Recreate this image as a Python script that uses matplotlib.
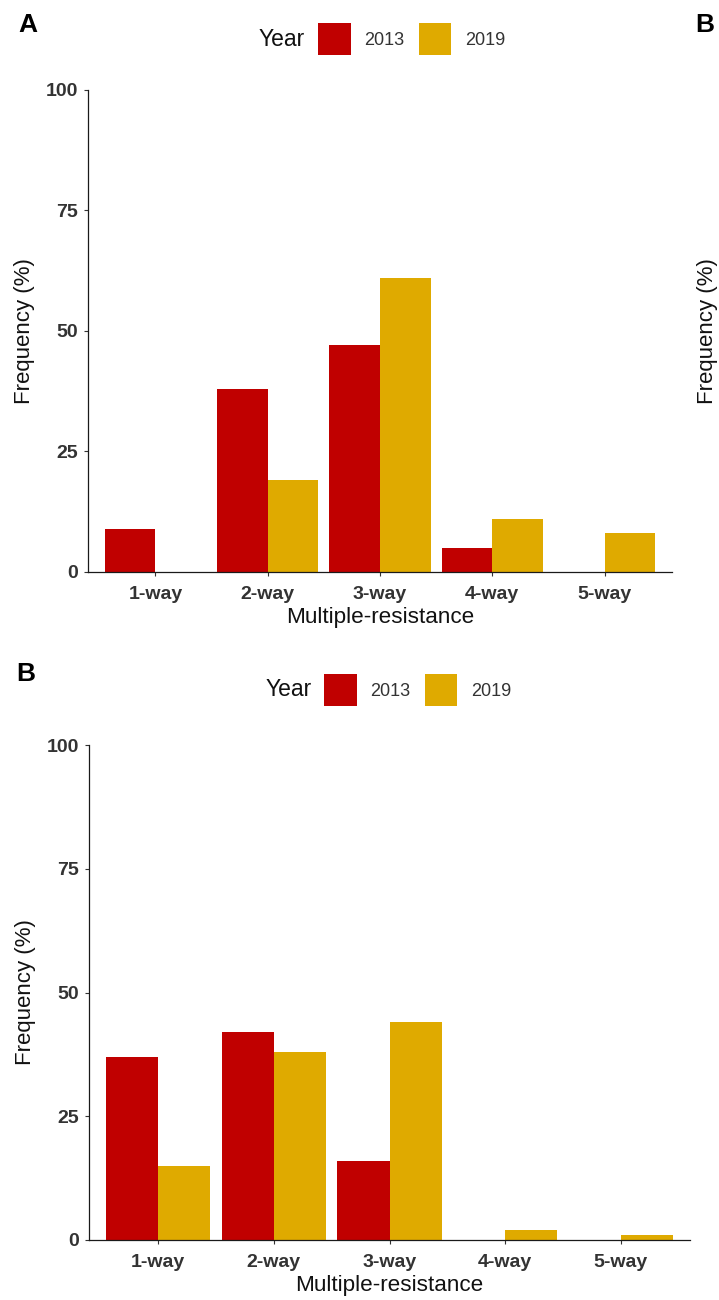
import matplotlib.pyplot as plt
import numpy as np

plt.rcParams['font.family'] = ['Liberation Sans', 'DejaVu Sans']

categorias = ['1-way', '2-way', '3-way', '4-way', '5-way']
anos = ['2013', '2019']
cores = ['#C00000', '#DFAA00']

# painel A
a_2013 = [9, 38, 47, 5, 0]
a_2019 = [0, 19, 61, 11, 8]
# painel B
b_2013 = [37, 42, 16, 0, 0]
b_2019 = [15, 38, 44, 2, 1]

yticks = [0, 25, 50, 75, 100]

fig = plt.figure(figsize=(7.19, 13), dpi=100)
W, H = 719.0, 1300.0


def painel(rect, v1, v2):
    ax = fig.add_axes(rect)
    x = np.arange(1, len(categorias) + 1)
    ax.bar(x - 0.225, v1, width=0.45, color=cores[0], label=anos[0], linewidth=0)
    ax.bar(x + 0.225, v2, width=0.45, color=cores[1], label=anos[1], linewidth=0)
    ax.set_xlim(0.4, 5.6)
    ax.set_ylim(0, 100)
    ax.set_xticks(x)
    ax.set_xticklabels(categorias)
    ax.set_yticks(yticks)
    ax.set_yticklabels([str(t) for t in yticks])
    for s in ['top', 'right']:
        ax.spines[s].set_visible(False)
    for s in ['left', 'bottom']:
        ax.spines[s].set_linewidth(0.9)
        ax.spines[s].set_color('#1a1a1a')
    ax.tick_params(axis='both', length=3, width=0.8, color='#333333',
                   labelcolor='#333333', labelsize=14)
    ax.tick_params(axis='x', pad=7)
    ax.tick_params(axis='y', pad=4)
    for lb in ax.get_xticklabels() + ax.get_yticklabels():
        lb.set_fontweight('bold')
    ax.set_xlabel('Multiple-resistance', fontsize=16.2, color='#111111', labelpad=3)
    ax.set_ylabel('Frequency (%)', fontsize=16, color='#111111', labelpad=8)
    return ax


def legenda(ax, xkey, ykey, xyear):
    h, l = ax.get_legend_handles_labels()
    fig.legend(h, l, loc='center left', bbox_to_anchor=(xkey / W, 1 - ykey / H),
               ncol=2, frameon=False, fontsize=13, handlelength=1.8, handleheight=2.3,
               handletextpad=0.75, columnspacing=0.8, borderpad=0, borderaxespad=0,
               labelcolor='#333333')
    fig.text(xyear / W, 1 - ykey / H, 'Year', fontsize=16.5, ha='right', va='center',
             color='#111111')


axA = painel([88 / W, 1 - 572 / H, (672 - 88) / W, (572 - 90) / H], a_2013, a_2019)
axB = painel([89 / W, 1 - 1240 / H, (690 - 89) / W, (1240 - 745) / H], b_2013, b_2019)

legenda(axA, 318, 39, 305)
legenda(axB, 324, 690, 312)

fig.text(18 / W, 1 - 25 / H, 'A', fontsize=19, fontweight='bold', ha='left', va='center')
fig.text(16 / W, 1 - 674 / H, 'B', fontsize=19, fontweight='bold', ha='left', va='center')
# restos do painel vizinho (na direita)
fig.text(695 / W, 1 - 25 / H, 'B', fontsize=19, fontweight='bold', ha='left', va='center')
fig.text(707 / W, 1 - 331 / H, 'Frequency (%)', fontsize=16, rotation=90,
         ha='center', va='center', color='#111111')

fig.savefig('out.png', dpi=100)
